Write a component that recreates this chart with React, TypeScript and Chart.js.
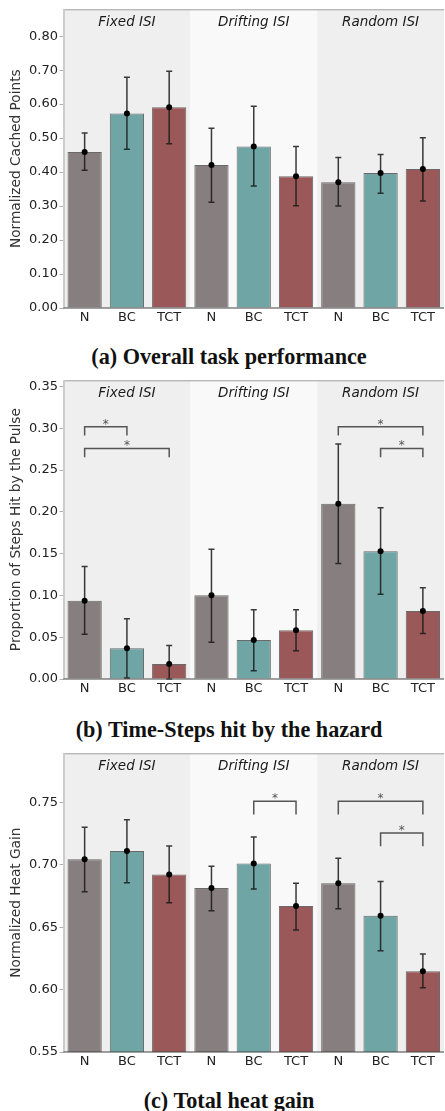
import React, { useEffect, useRef } from "react";
import { Chart, registerables } from "chart.js";

Chart.register(...registerables);
Chart.defaults.font.family = "'DejaVu Sans', sans-serif";

// ---------- data ----------
const categories = ["N", "BC", "TCT", "N", "BC", "TCT", "N", "BC", "TCT"];
const groups = ["Fixed ISI", "Drifting ISI", "Random ISI"];
const barColors = ["#877f7f", "#70a5a6", "#9a5958", "#877f7f", "#70a5a6", "#9a5958", "#877f7f", "#70a5a6", "#9a5958"];

// (a) Overall task performance
const perfMean = [0.459, 0.572, 0.591, 0.421, 0.475, 0.388, 0.370, 0.397, 0.409];
const perfLow = [0.405, 0.467, 0.483, 0.311, 0.359, 0.301, 0.300, 0.338, 0.315];
const perfHigh = [0.515, 0.679, 0.697, 0.529, 0.594, 0.475, 0.443, 0.452, 0.501];
const perfTicks = [0.0, 0.1, 0.2, 0.3, 0.4, 0.5, 0.6, 0.7, 0.8];
const perfRange = [0, 0.879];
const perfBrackets: number[][] = [];

// (b) Time-steps hit by the hazard
const hitMean = [0.0937, 0.0369, 0.0179, 0.1001, 0.0468, 0.0584, 0.2098, 0.1529, 0.0814];
const hitLow = [0.0536, 0.0012, 0.0, 0.0441, 0.0099, 0.0337, 0.1383, 0.1013, 0.0544];
const hitHigh = [0.1347, 0.0722, 0.040, 0.1553, 0.083, 0.083, 0.2813, 0.205, 0.1092];
const hitTicks = [0.0, 0.05, 0.1, 0.15, 0.2, 0.25, 0.3, 0.35];
const hitRange = [0, 0.3575];
// [from index, to index, bracket level]
const hitBrackets = [[0, 1, 0.302], [0, 2, 0.276], [6, 8, 0.302], [7, 8, 0.276]];

// (c) Total heat gain
const heatMean = [0.7046, 0.7111, 0.6924, 0.6814, 0.7012, 0.667, 0.6854, 0.6593, 0.6147];
const heatLow = [0.6785, 0.6857, 0.6697, 0.6633, 0.6806, 0.6478, 0.6649, 0.6312, 0.6016];
const heatHigh = [0.7303, 0.7362, 0.7151, 0.699, 0.7223, 0.6854, 0.7054, 0.6868, 0.6285];
const heatTicks = [0.55, 0.6, 0.65, 0.7, 0.75];
const heatRange = [0.55, 0.7895];
const heatBrackets = [[4, 5, 0.751], [6, 8, 0.751], [7, 8, 0.7255]];

type Panel = {
  title: string;
  caption: string;
  mean: number[];
  low: number[];
  high: number[];
  ticks: number[];
  range: number[];
  brackets: number[][];
  legDrop: number;
  top: number;
  captionY: number;
};

const panels: Panel[] = [
  { title: "Normalized Cached Points", caption: "(a) Overall task performance", mean: perfMean, low: perfLow, high: perfHigh, ticks: perfTicks, range: perfRange, brackets: perfBrackets, legDrop: 0.03, top: 0, captionY: 357 },
  { title: "Proportion of Steps Hit by the Pulse", caption: "(b) Time-Steps hit by the hazard", mean: hitMean, low: hitLow, high: hitHigh, ticks: hitTicks, range: hitRange, brackets: hitBrackets, legDrop: 0.0105, top: 371, captionY: 730 },
  { title: "Normalized Heat Gain", caption: "(c) Total heat gain", mean: heatMean, low: heatLow, high: heatHigh, ticks: heatTicks, range: heatRange, brackets: heatBrackets, legDrop: 0.0105, top: 744, captionY: 1101 },
];

const CANVAS_W = 448;
const CANVAS_H = 338;

function PanelChart({ p }: { p: Panel }) {
  const ref = useRef<HTMLCanvasElement | null>(null);
  useEffect(() => {
    if (!ref.current) return;
    const decor = {
      id: "decor",
      beforeDraw(chart: any) {
        const { ctx, chartArea } = chart;
        const x = chart.scales.x;
        const w = x.getPixelForValue(1) - x.getPixelForValue(0);
        const bg = ["#efefef", "#f9f9f9", "#efefef"];
        ctx.save();
        groups.forEach((_, g) => {
          const l = x.getPixelForValue(g * 3) - w / 2;
          const r = x.getPixelForValue(g * 3 + 2) + w / 2;
          ctx.fillStyle = bg[g];
          ctx.fillRect(l, chartArea.top, r - l, chartArea.bottom - chartArea.top);
        });
        ctx.restore();
      },
      afterDatasetDraw(chart: any, args: any) {
        if (args.index !== 0) return;
        const { ctx } = chart;
        const x = chart.scales.x;
        const y = chart.scales.y;
        ctx.save();
        ctx.strokeStyle = "rgba(25,25,25,0.85)";
        ctx.lineWidth = 1.5;
        p.mean.forEach((_, i) => {
          const cx = x.getPixelForValue(i);
          const y1 = y.getPixelForValue(p.low[i]);
          const y2 = y.getPixelForValue(p.high[i]);
          ctx.beginPath();
          ctx.moveTo(cx, y1);
          ctx.lineTo(cx, y2);
          ctx.moveTo(cx - 3, y1);
          ctx.lineTo(cx + 3, y1);
          ctx.moveTo(cx - 3, y2);
          ctx.lineTo(cx + 3, y2);
          ctx.stroke();
        });
        ctx.restore();
      },
      afterDraw(chart: any) {
        const { ctx, chartArea } = chart;
        const x = chart.scales.x;
        const y = chart.scales.y;
        ctx.save();
        // spines
        ctx.strokeStyle = "#a0a0a0";
        ctx.lineWidth = 1;
        ctx.beginPath();
        ctx.moveTo(chartArea.left, chartArea.top + 0.5);
        ctx.lineTo(chartArea.right, chartArea.top + 0.5);
        ctx.stroke();
        ctx.strokeStyle = "#cccccc";
        ctx.lineWidth = 2;
        ctx.beginPath();
        ctx.moveTo(chartArea.left + 0.5, chartArea.top);
        ctx.lineTo(chartArea.left + 0.5, chartArea.bottom);
        ctx.stroke();
        ctx.strokeStyle = "#444444";
        ctx.lineWidth = 1.2;
        ctx.beginPath();
        ctx.moveTo(chartArea.left, chartArea.bottom);
        ctx.lineTo(chartArea.right, chartArea.bottom);
        ctx.stroke();
        // group labels
        ctx.fillStyle = "#1a1a1a";
        ctx.font = "italic 13.5px 'DejaVu Sans'";
        ctx.textAlign = "center";
        ctx.textBaseline = "middle";
        groups.forEach((g, gi) => {
          ctx.fillText(g, x.getPixelForValue(gi * 3 + 1), chartArea.top + 13);
        });
        // significance brackets
        ctx.strokeStyle = "#555555";
        ctx.fillStyle = "#555555";
        ctx.lineWidth = 1.5;
        ctx.font = "12px 'DejaVu Sans'";
        ctx.textBaseline = "alphabetic";
        p.brackets.forEach(([a, b, lvl]) => {
          const xa = x.getPixelForValue(a);
          const xb = x.getPixelForValue(b);
          const yt = y.getPixelForValue(lvl);
          const yl = y.getPixelForValue(lvl - p.legDrop);
          ctx.beginPath();
          ctx.moveTo(xa, yl);
          ctx.lineTo(xa, yt);
          ctx.lineTo(xb, yt);
          ctx.lineTo(xb, yl);
          ctx.stroke();
          ctx.fillText("*", (xa + xb) / 2, yt + 1);
        });
        ctx.restore();
      },
    };

    const chart = new Chart(ref.current, {
      type: "bar",
      data: {
        labels: categories,
        datasets: [
          {
            type: "bar",
            data: p.mean.map((v) => v),
            backgroundColor: barColors,
            borderColor: "rgba(70,70,70,0.8)",
            borderWidth: 1,
            barPercentage: 0.81,
            categoryPercentage: 1,
            order: 2,
          } as any,
          {
            type: "line",
            data: p.mean,
            showLine: false,
            pointRadius: 3,
            pointBackgroundColor: "#000",
            pointBorderColor: "#000",
            pointBorderWidth: 0,
            order: 1,
          } as any,
        ],
      },
      options: {
        responsive: false,
        animation: false,
        events: [],
        layout: { padding: { top: 8, left: 0, right: 0, bottom: 0 } },
        plugins: { legend: { display: false }, tooltip: { enabled: false } },
        scales: {
          x: {
            offset: true,
            grid: { display: false, drawTicks: false },
            border: { display: false },
            ticks: { color: "#222", font: { size: 13 }, padding: 2, maxRotation: 0, autoSkip: false },
            afterFit(scale: any) {
              scale.height = 30;
            },
          },
          y: {
            min: p.range[0],
            max: p.range[1],
            grid: { drawOnChartArea: false, drawTicks: true, tickLength: 4, tickColor: "#b0b0b0" },
            border: { display: false },
            ticks: {
              color: "#222",
              font: { size: 13 },
              padding: 1.5,
              callback: (v: any) => Number(v).toFixed(2),
            },
            afterBuildTicks(scale: any) {
              scale.ticks = p.ticks.map((v) => ({ value: v }));
            },
            afterFit(scale: any) {
              scale.width = 63.5;
            },
            title: {
              display: true,
              text: p.title,
              color: "#333",
              font: { size: 13.7 },
              padding: { top: 8.5, bottom: 0 },
            },
          },
        },
      },
      plugins: [decor],
    });
    return () => chart.destroy();
  }, [p]);

  return (
    <canvas
      ref={ref}
      width={CANVAS_W}
      height={CANVAS_H}
      style={{ position: "absolute", left: 0, top: p.top, width: CANVAS_W, height: CANVAS_H }}
    />
  );
}

export default function App() {
  return (
    <div style={{ position: "absolute", left: 0, top: 0, width: 445, height: 1111, overflow: "hidden", background: "#fff" }}>
      {panels.map((p, i) => (
        <React.Fragment key={i}>
          <PanelChart p={p} />
          <div
            style={{
              position: "absolute",
              left: 29,
              width: 400,
              top: p.captionY - 13,
              height: 26,
              lineHeight: "26px",
              textAlign: "center",
              fontFamily: "'Liberation Serif', serif",
              fontWeight: "bold",
              fontSize: 22.2,
              color: "#111",
              whiteSpace: "nowrap",
            }}
          >
            {p.caption}
          </div>
        </React.Fragment>
      ))}
    </div>
  );
}
